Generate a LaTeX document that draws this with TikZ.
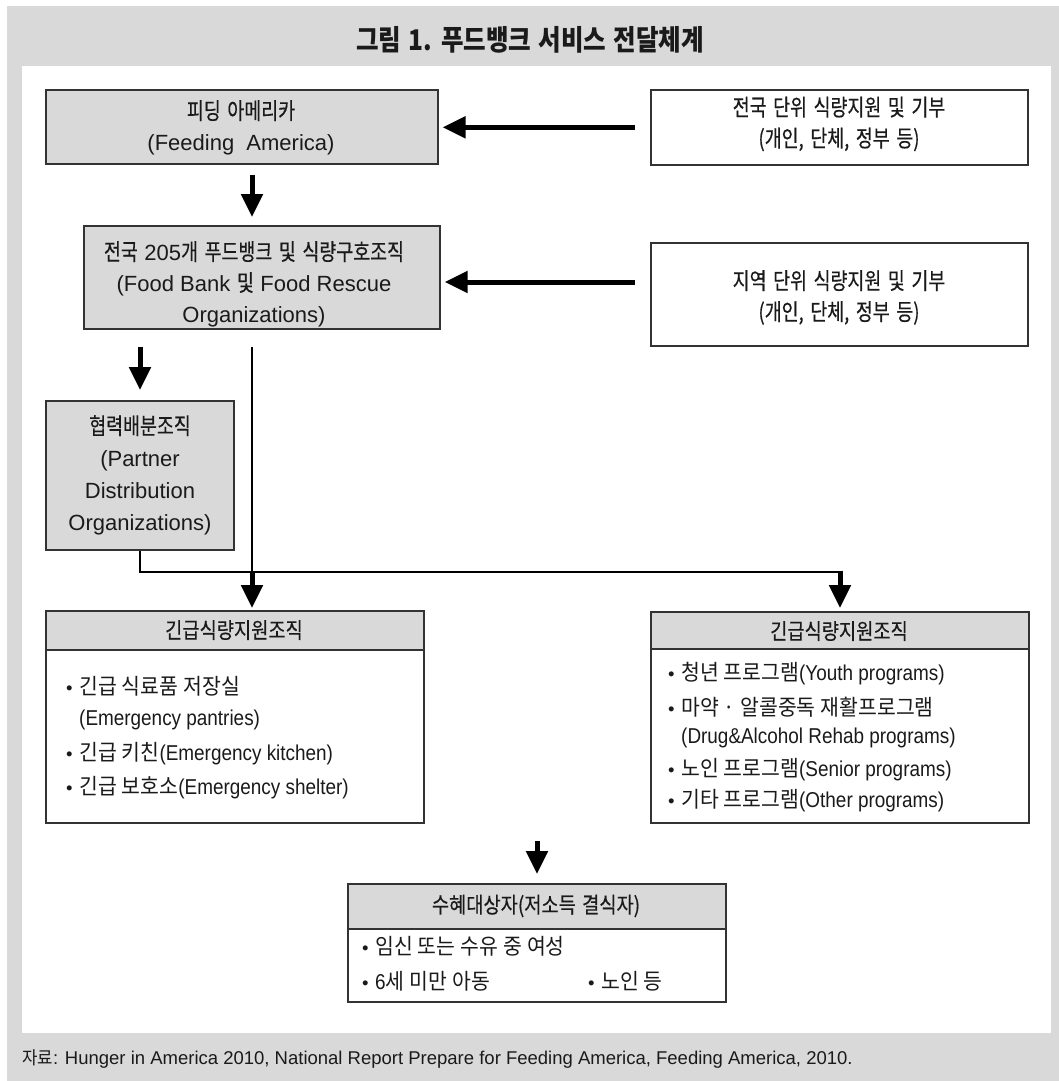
\documentclass[tikz,border=0pt]{standalone}
\usepackage{fontspec}
\usetikzlibrary{arrows.meta}
\newfontfamily\krA[FakeStretch=0.8, WordSpace=1.6, FakeBold=0.4]{Noto Sans CJK KR}
\newfontfamily\krB[FakeStretch=0.93, WordSpace=1.1]{Noto Sans CJK KR}
\newfontfamily\krC[FakeStretch=0.85, WordSpace=1.5, FakeBold=0.4]{Noto Sans CJK KR}
\newfontfamily\krT[FakeStretch=0.86, WordSpace=1.3]{Noto Sans CJK KR}
\newfontfamily\latfont{Liberation Sans}
\newfontfamily\latnarrow[FakeStretch=0.88]{Liberation Sans}
\newcommand\la[1]{{\latfont\fontsize{22}{31}\selectfont #1}}
\newcommand\lb[1]{{\latnarrow\fontsize{21.5}{24}\selectfont #1}}
\newcommand\bul{\makebox[13pt][l]{\latfont\fontsize{18.5}{22}\selectfont •}}
\newcommand\nobul{\hspace*{13pt}}
\definecolor{panel}{HTML}{D9D9D9}
\definecolor{boxgray}{HTML}{D9D9D9}
\definecolor{boxline}{HTML}{333333}
\definecolor{ink}{HTML}{1A1A1A}
\tikzset{
  gbox/.style={rectangle, draw=boxline, line width=1.6pt, fill=boxgray, inner sep=0pt, anchor=north west},
  wbox/.style={rectangle, draw=boxline, line width=1.6pt, fill=white, inner sep=0pt, anchor=north west},
  txtA/.style={align=center, inner sep=0pt, text=ink, font=\krA\fontsize{23}{31}\selectfont},
  hdr/.style={inner sep=0pt, text=ink, font=\krC\fontsize{22}{24}\selectfont},
  item/.style={anchor=west, inner sep=0pt, text=ink, font=\krB\fontsize{22}{24}\selectfont},
  titlet/.style={inner sep=0pt, text=ink, font=\krT\bfseries\fontsize{28.5}{30}\selectfont},
  foot/.style={anchor=west, inner sep=0pt, text=ink, font=\krB\fontsize{18}{20}\selectfont},
  fat/.style={draw=black, line width=5pt, -{Triangle[width=21pt,length=23pt]}},
  thinl/.style={draw=black, line width=2.8pt}
}
\begin{document}
\begin{tikzpicture}[x=1pt,y=-1pt]
\useasboundingbox (0,0) rectangle (1059,1081);
\fill[panel] (7,6) rectangle (1059,1081);
\fill[white] (22,66) rectangle (1051,1033);
\node[titlet] (title) at (530,40) {그림 1. 푸드뱅크 서비스 전달체계};

% top row
\node[gbox, minimum width=392, minimum height=74] (fa) at (45,89) {};
\node[txtA] (fa-t) at (241,127.5) {피딩 아메리카\\\la{(Feeding\ \ America)}};
\node[wbox, minimum width=377, minimum height=75] (nat) at (650,89) {};
\node[txtA] (nat-t) at (839,124) {전국 단위 식량지원 및 기부\\(개인, 단체, 정부 등)};

% second row
\node[gbox, minimum width=356, minimum height=103] (fb) at (83,225) {};
\node[txtA] (fb-t) at (254,284) {전국 \la{205}개 푸드뱅크 및 식량구호조직\\\la{(Food Bank} 및 \la{Food Rescue}\\\la{Organizations)}};
\node[wbox, minimum width=377, minimum height=103] (loc) at (650,242) {};
\node[txtA] (loc-t) at (839,297.5) {지역 단위 식량지원 및 기부\\(개인, 단체, 정부 등)};

% partner
\node[gbox, minimum width=188, minimum height=149] (pd) at (45,400) {};
\node[txtA, font=\krA\fontsize{23}{32}\selectfont] (pd-t) at (140,475) {협력배분조직\\\la{(Partner}\\\la{Distribution}\\\la{Organizations)}};

% left emergency
\node[wbox, minimum width=378, minimum height=212] (le) at (45,610) {};
\node[gbox, minimum width=378, minimum height=39] (leh) at (45,610) {};
\node[hdr] (leh-t) at (234,630) {긴급식량지원조직};
\node[item] (le1) at (66,686) {\bul 긴급 식료품 저장실};
\node[item] (le2) at (66,720) {\nobul\lb{(Emergency pantries)}};
\node[item] (le3) at (66,754) {\bul 긴급 키친\lb{(Emergency kitchen)}};
\node[item] (le4) at (66,788) {\bul 긴급 보호소\lb{(Emergency shelter)}};

% right emergency
\node[wbox, minimum width=378, minimum height=211] (re) at (650,611) {};
\node[gbox, minimum width=378, minimum height=37] (reh) at (650,611) {};
\node[hdr] (reh-t) at (839,631) {긴급식량지원조직};
\node[item] (re1) at (668,674) {\bul 청년 프로그램\lb{(Youth programs)}};
\node[item] (re2) at (668,707) {\bul 마약 · 알콜중독 재활프로그램};
\node[item] (re3) at (668,738) {\nobul\lb{(Drug\&Alcohol Rehab programs)}};
\node[item] (re4) at (668,770) {\bul 노인 프로그램\lb{(Senior programs)}};
\node[item] (re5) at (668,801) {\bul 기타 프로그램\lb{(Other programs)}};

% recipients
\node[wbox, minimum width=378, minimum height=118] (rc) at (347,883) {};
\node[gbox, minimum width=378, minimum height=45] (rch) at (347,883) {};
\node[hdr] (rch-t) at (536,906) {수혜대상자(저소득 결식자)};
\node[item] (rc1) at (362,946) {\bul 임신 또는 수유 중 여성};
\node[item] (rc2) at (362,981) {\bul \lb{6}세 미만 아동};
\node[item] (rc3) at (588,981) {\bul 노인 등};

% footer
\node[foot] (src) at (22,1059) {자료{\latfont\fontsize{18.5}{20}\selectfont : Hunger in America 2010, National Report Prepare for Feeding America, Feeding America, 2010.}};

% connectors
\coordinate (ax1) at (252,0);
\coordinate (ax3) at (140,0);
\coordinate (ax5) at (840,0);
\coordinate (ax6) at (537,0);
\coordinate (ay2) at (0,282);
\coordinate (hz) at (0,572);
\draw[fat] ([yshift=-10pt]fa.south -| ax1) -- ([yshift=8pt]fb.north -| ax1);
\draw[fat] ([xshift=-15pt]nat.west) -- ([xshift=4pt]fa.east |- nat.west);
\draw[fat] ([xshift=-15pt]loc.west |- ay2) -- ([xshift=4pt]fb.east |- ay2);
\draw[fat] ([yshift=-17pt]fb.south -| ax3) -- ([yshift=10pt]pd.north -| ax3);
\draw[thinl] ([yshift=-17pt]fb.south -| ax1) -- ([yshift=20pt]leh.north -| ax1);
\draw[fat] (hz -| ax1) -- ([yshift=2pt]leh.north -| ax1);
\draw[thinl] (pd.south -| ax3) -- (hz -| ax3) -- (hz -| ax5);
\draw[fat] ([yshift=1.4pt]hz -| ax5) -- ([yshift=3pt]reh.north -| ax5);
\draw[fat] ([yshift=-17pt]le.south -| ax6) -- ([yshift=9pt]rc.north -| ax6);
\end{tikzpicture}
\end{document}
